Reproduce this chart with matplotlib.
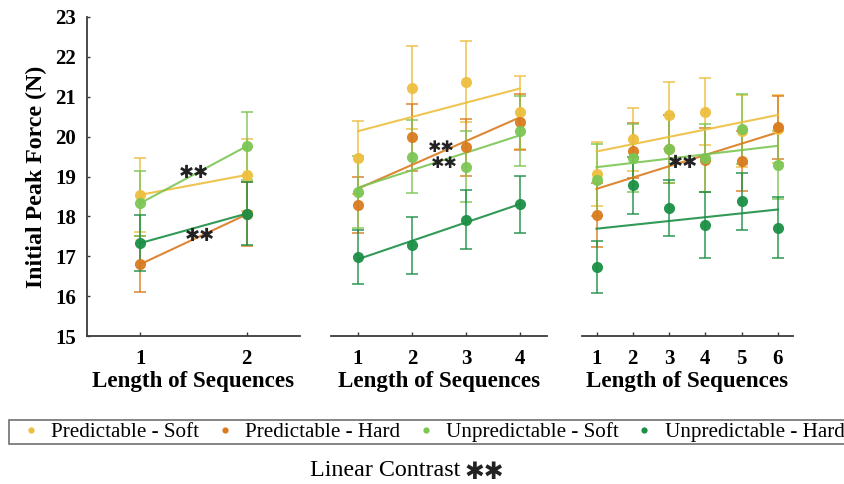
import numpy as np
import matplotlib.pyplot as plt
from matplotlib.lines import Line2D

plt.rcParams['font.family'] = ['Liberation Serif', 'DejaVu Sans']

series = ['Predictable - Soft', 'Predictable - Hard', 'Unpredictable - Soft', 'Unpredictable - Hard']
colors = ['#EEBF3E', '#D97B1E', '#7CC654', '#1C8F45']

# sequence length 2
x_len2 = [1, 2]
mean_len2 = [[18.54, 19.04], [16.80, 18.05], [18.33, 19.76], [17.33, 18.07]]
err_len2 = [[0.92, 0.90], [0.70, 0.80], [0.82, 0.85], [0.70, 0.78]]

# sequence length 4
x_len4 = [1, 2, 3, 4]
mean_len4 = [[19.47, 21.23, 21.38, 20.61],
             [18.29, 19.98, 19.73, 20.36],
             [18.61, 19.50, 19.25, 20.15],
             [16.98, 17.27, 17.92, 18.30]]
err_len4 = [[0.91, 1.04, 1.02, 0.92],
            [0.70, 0.85, 0.72, 0.70],
            [0.90, 0.92, 0.90, 0.88],
            [0.68, 0.72, 0.73, 0.72]]

# sequence length 6
x_len6 = [1, 2, 3, 4, 5, 6]
mean_len6 = [[19.07, 19.93, 20.53, 20.63, 20.15, 20.20],
             [18.03, 19.65, 19.68, 19.42, 19.38, 20.23],
             [18.92, 19.47, 19.68, 19.47, 20.19, 19.28],
             [16.72, 18.78, 18.21, 17.78, 18.38, 17.72]]
err_len6 = [[0.80, 0.78, 0.83, 0.84, 0.90, 0.85],
            [0.80, 0.70, 0.85, 0.80, 0.75, 0.80],
            [0.90, 0.85, 0.85, 0.85, 0.88, 0.85],
            [0.65, 0.72, 0.71, 0.82, 0.72, 0.77]]

# "**" markers (x, y, size) per panel
stars_len2 = [(1.5, 19.08, 13), (1.56, 17.5, 13)]
stars_len4 = [(2.54, 19.72, 11.5), (2.6, 19.33, 11.5)]
stars_len6 = [(3.38, 19.33, 13)]

panels = [
    (x_len2, mean_len2, err_len2, stars_len2, (0.5, 2.5), [87, 300]),
    (x_len4, mean_len4, err_len4, stars_len4, (0.5, 4.5), [331, 547]),
    (x_len6, mean_len6, err_len6, stars_len6, (0.6, 6.42), [582, 793]),
]

W, H = 845, 484
fig = plt.figure(figsize=(W / 100, H / 100), dpi=100)
axis_col = '#3c3c3c'
bold = dict(fontweight='bold', fontsize=15)

for i, (xs, means, errs, stars, xlim, (x0, x1)) in enumerate(panels):
    ax = fig.add_axes([x0 / W, 1 - 336 / H, (x1 - x0) / W, (336 - 17) / H])
    for k in range(4):
        ax.errorbar(xs, means[k], yerr=errs[k], fmt='none', ecolor=colors[k],
                    elinewidth=1.2, capsize=4.5, capthick=1.2, alpha=0.85, zorder=2)
        # linear fit across lengths
        p = np.polyfit(xs, means[k], 1)
        xf = np.array([xs[0], xs[-1]])
        ax.plot(xf, np.polyval(p, xf), color=colors[k], lw=1.5, alpha=0.9, zorder=3)
        ax.plot(xs, means[k], 'o', color=colors[k], ms=8, mec='none', alpha=0.95, zorder=4)
    for sx, sy, fs in stars:
        ax.text(sx, sy, '\u2731\u2731', family='DejaVu Sans', fontsize=fs,
                ha='center', va='center', color='#222222', zorder=6)

    ax.set_xlim(*xlim)
    ax.set_ylim(15, 23)
    ax.set_xticks(xs)
    ax.set_xticklabels([str(v) for v in xs], **bold)
    ax.tick_params(axis='x', direction='in', length=3, width=1, color=axis_col, pad=9)
    ax.set_xlabel('Length of Sequences', fontweight='bold', fontsize=16.6, labelpad=2)
    for s in ['top', 'right']:
        ax.spines[s].set_visible(False)
    ax.spines['bottom'].set_color(axis_col)
    ax.spines['bottom'].set_linewidth(1.3)
    if i == 0:
        ax.set_yticks(range(15, 24))
        ax.set_yticklabels([str(v) for v in range(15, 24)], **bold)
        ax.tick_params(axis='y', direction='in', length=2, width=1, color=axis_col, pad=8)
        ax.spines['left'].set_color(axis_col)
        ax.spines['left'].set_linewidth(1.3)
        ax.set_ylabel('Initial Peak Force (N)', fontweight='bold', fontsize=17.2, labelpad=6)
    else:
        ax.spines['left'].set_visible(False)
        ax.set_yticks([])

handles = [Line2D([], [], marker='o', ls='none', color=c, ms=4.5, mec='none') for c in colors]
leg = fig.legend(handles, series, loc='center left', bbox_to_anchor=(9 / W, 1 - 432 / H),
                 ncol=4, fontsize=15.2, frameon=True, fancybox=False, borderpad=0.12,
                 handlelength=1.8, handletextpad=0.05, columnspacing=0.33, borderaxespad=0)
leg.get_frame().set_edgecolor('#5a5a5a')
leg.get_frame().set_linewidth(1.3)

fig.text(460 / W, 1 - 470 / H, 'Linear Contrast', fontsize=17.3, ha='right', va='center')
fig.text(464 / W, 1 - 472 / H, '\u2731\u2731', family='DejaVu Sans', fontsize=17,
         ha='left', va='center', color='#222222')

fig.savefig('out.png', dpi=100)
